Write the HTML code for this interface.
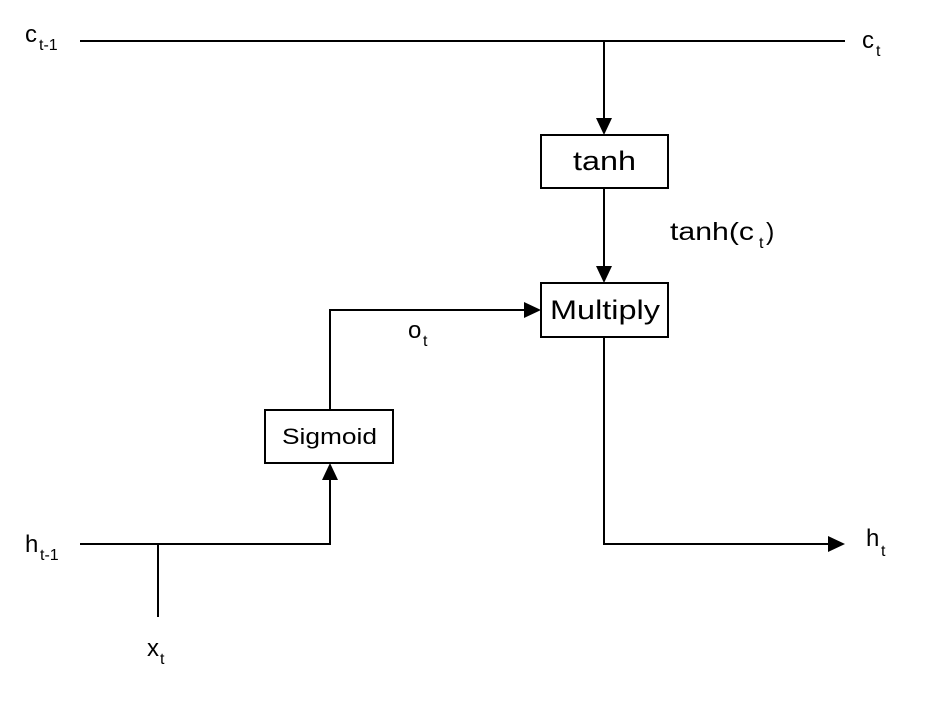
<!DOCTYPE html>
<html><head><style>
body{margin:0;background:#fff;}
svg text{font-family:"Liberation Sans",sans-serif;fill:#000;}
</style></head><body>
<svg width="940" height="709" viewBox="0 0 940 709" xmlns="http://www.w3.org/2000/svg">
<g stroke="#000" stroke-width="2" fill="none">
<line x1="80" y1="41" x2="845" y2="41"/>
<line x1="604" y1="41" x2="604" y2="120"/>
<rect x="541" y="135" width="127" height="53"/>
<line x1="604" y1="188" x2="604" y2="268"/>
<rect x="541" y="283" width="127" height="54"/>
<polyline points="330,410 330,310 526,310"/>
<rect x="265" y="410" width="128" height="53"/>
<polyline points="80,544 330,544 330,478"/>
<line x1="158" y1="544" x2="158" y2="617"/>
<polyline points="604,337 604,544 830,544"/>
</g>
<g fill="#000">
<polygon points="596,118 612,118 604,135"/>
<polygon points="596,266 612,266 604,283"/>
<polygon points="524,302 524,318 541,310"/>
<polygon points="322,480 338,480 330,463"/>
<polygon points="828,536 828,552 845,544"/>
</g>
<text x="25" y="42" font-size="24">c</text><text x="39" y="50" font-size="16">t-1</text>
<text x="862" y="48" font-size="24">c</text><text x="876" y="56" font-size="16">t</text>
<text x="573" y="170" font-size="27" textLength="63" lengthAdjust="spacingAndGlyphs">tanh</text>
<text x="670" y="240" font-size="25" textLength="84" lengthAdjust="spacingAndGlyphs">tanh(c</text><text x="759" y="248" font-size="16">t</text><text x="766" y="240" font-size="25">)</text>
<text x="550" y="319" font-size="27" textLength="110" lengthAdjust="spacingAndGlyphs">Multiply</text>
<text x="408" y="338" font-size="24">o</text><text x="423" y="346" font-size="16">t</text>
<text x="282" y="444" font-size="22" textLength="95" lengthAdjust="spacingAndGlyphs">Sigmoid</text>
<text x="25" y="552" font-size="24">h</text><text x="40" y="560" font-size="16">t-1</text>
<text x="866" y="546" font-size="24">h</text><text x="881" y="556" font-size="16">t</text>
<text x="147" y="656" font-size="24">x</text><text x="160" y="664" font-size="16">t</text>
</svg>
</body></html>
